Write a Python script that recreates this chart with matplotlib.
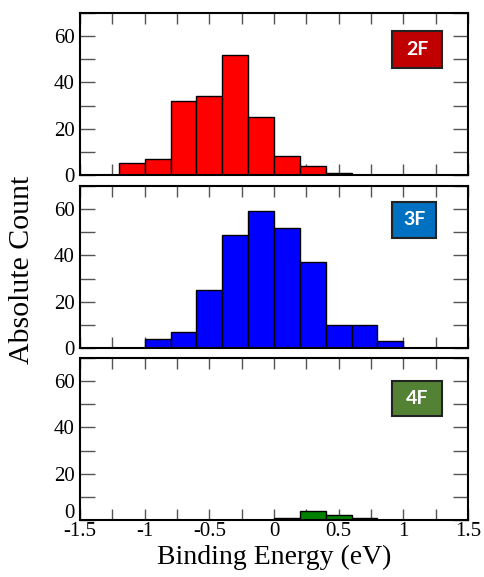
import numpy as np
import matplotlib.pyplot as plt
from matplotlib import ticker
from matplotlib.patches import Rectangle

# histogram bins (left edges, eV) and counts per fluorine configuration
bin_left = [-1.2, -1.0, -0.8, -0.6, -0.4, -0.2, 0.0, 0.2, 0.4, 0.6, 0.8]
counts_2f = [5, 7, 32, 34, 52, 25, 8, 4, 1, 0, 0]
counts_3f = [0, 4, 7, 25, 49, 59, 52, 37, 10, 10, 3]
counts_4f = [0, 0, 0, 0, 0, 0, 1, 4, 2, 1, 0]
bin_width = 0.2

labels = ['2F', '3F', '4F']
bar_colors = ['#ff0000', '#0000ff', '#008000']
box_colors = ['#c00000', '#0070c0', '#548235']
# label box extents in axes fractions: x0, x1, y0, y1
boxes = [(0.804, 0.933, 0.660, 0.889),
         (0.804, 0.918, 0.679, 0.901),
         (0.804, 0.933, 0.642, 0.858)]

serif = 'Liberation Serif'
plt.rcParams['axes.unicode_minus'] = False

fig = plt.figure(figsize=(4.85, 5.77), dpi=100)
left, width, height = 0.165, 0.80, 0.2808
bottoms = [0.6967, 0.3969, 0.0988]

axes = []
for i, data in enumerate([counts_2f, counts_3f, counts_4f]):
    ax = fig.add_axes([left, bottoms[i], width, height])
    ax.bar(bin_left, data, width=bin_width, align='edge',
           color=bar_colors[i], edgecolor='black', linewidth=1.0, zorder=2)

    ax.set_xlim(-1.5, 1.5)
    ax.set_ylim(0, 70)
    ax.xaxis.set_major_locator(ticker.MultipleLocator(0.5))
    ax.xaxis.set_minor_locator(ticker.MultipleLocator(0.25))
    ax.yaxis.set_major_locator(ticker.MultipleLocator(20))
    ax.yaxis.set_minor_locator(ticker.MultipleLocator(10))
    ax.xaxis.set_major_formatter(ticker.FuncFormatter(lambda v, p: '%g' % v))
    if i < 2:
        ax.yaxis.set_major_formatter(ticker.FormatStrFormatter('%d'))
    else:
        # bottom panel: the zero is placed by hand, nudged up off the x labels
        ax.yaxis.set_major_formatter(
            ticker.FuncFormatter(lambda v, p: '' if v == 0 else '%d' % v))
        ax.annotate('0', xy=(0, 0), xycoords='axes fraction', xytext=(-4, 4.5),
                    textcoords='offset points', ha='right', va='center',
                    fontsize=15, family=serif)

    ax.tick_params(axis='both', which='both', direction='in', top=True,
                   right=True, color='#555555', width=1.0)
    ax.tick_params(axis='x', which='both', length=8)
    ax.tick_params(axis='y', which='both', length=11)
    ax.tick_params(axis='x', which='major', labelsize=15, pad=1.5)
    ax.tick_params(axis='y', which='major', labelsize=15, pad=4)
    for lab in ax.get_xticklabels() + ax.get_yticklabels():
        lab.set_fontfamily(serif)
    if i < 2:
        ax.tick_params(axis='x', labelbottom=False)

    for sp in ax.spines.values():
        sp.set_linewidth(1.5)
        sp.set_zorder(3)

    x0, x1, y0, y1 = boxes[i]
    ax.add_patch(Rectangle((x0, y0), x1 - x0, y1 - y0, transform=ax.transAxes,
                           facecolor=box_colors[i], edgecolor='#222222',
                           linewidth=1.5, zorder=4))
    ax.text((x0 + x1) / 2, (y0 + y1) / 2, labels[i], transform=ax.transAxes,
            ha='center', va='center', color='white', fontsize=14,
            fontweight='bold', family='Lato', zorder=5)
    axes.append(ax)

axes[2].set_xlabel('Binding Energy (eV)', fontsize=20, family=serif, labelpad=2.5)
fig.text(0.045, 0.532, 'Absolute Count', rotation=90, ha='center', va='center',
         fontsize=21.5, family=serif)

fig.savefig('out.png', dpi=100)
